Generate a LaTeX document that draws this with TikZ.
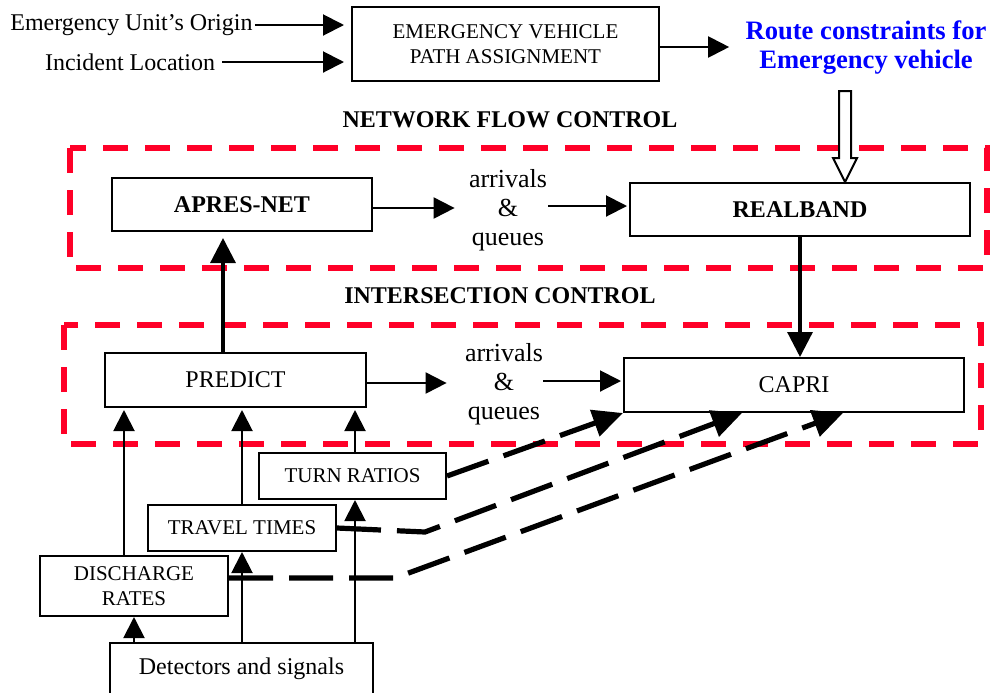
\documentclass[tikz,border=0pt]{standalone}
\usepackage{fontspec}
\setmainfont{Liberation Serif}
\usetikzlibrary{arrows.meta,calc}
\definecolor{groupred}{RGB}{255,0,40}
\begin{document}
\begin{tikzpicture}[x=0.5pt,y=-0.5pt,
  box/.style={draw,line width=1pt,inner sep=0pt,align=center},
  big/.style={font=\fontsize{12}{14}\selectfont},
  bigbold/.style={font=\fontsize{12}{14}\selectfont\bfseries},
  small/.style={font=\fontsize{10.5}{12.5}\selectfont},
  flow/.style={font=\fontsize{13}{14.5}\selectfont,align=center,inner sep=0pt},
  arr/.style={line width=1pt,-{Triangle[length=10.5pt,width=10.5pt]}},
  bigarr/.style={line width=1.6pt,-{Triangle[length=12.5pt,width=12.5pt]}},
  feed/.style={line width=2.6pt,dash pattern=on 22pt off 8pt,-{Triangle[length=15pt,width=13.5pt]}},
  group/.style={draw=groupred,line width=3pt,dash pattern=on 12.5pt off 8.5pt},
  header/.style={font=\fontsize{12}{14}\selectfont\bfseries,inner sep=0pt}
]
\useasboundingbox (0,0) rectangle (990,692);

% control groups
\draw[group] (70,148) rectangle (987,268);
\draw[group] (64,325) rectangle (981,444);

% path assignment
\node[box,small,minimum width=153.5pt,minimum height=37pt] (ev) at (505.5,44) {EMERGENCY VEHICLE\\PATH ASSIGNMENT};
\node[big,anchor=west,inner sep=0pt] (origin) at (10,25) {Emergency Unit’s Origin};
\node[big,inner sep=0pt] (incident) at (130,62) {Incident Location};
\node[font=\fontsize{13.3}{14.5}\selectfont\bfseries,text=blue,align=center,inner sep=0pt] (route) at (866,48) {Route constraints for\\Emergency vehicle};

\node[header] (netctl) at (510,120) {NETWORK FLOW CONTROL};
\node[header] (isctl) at (500,296) {INTERSECTION CONTROL};

% network level
\node[box,bigbold,minimum width=130pt,minimum height=26.5pt] (apres) at (242,204.5) {APRES-NET};
\node[box,bigbold,minimum width=170pt,minimum height=26.5pt] (realband) at (800,209.5) {REALBAND};
\node[flow] (arr1) at (508,210) {arrivals\\\&\\queues};

% intersection level
\node[box,big,minimum width=130.5pt,minimum height=27pt] (predict) at (235.5,380) {PREDICT};
\node[box,big,minimum width=170pt,minimum height=27pt] (capri) at (794,385) {CAPRI};
\node[flow] (arr2) at (504,384) {arrivals\\\&\\queues};

% measured inputs
\node[box,small,minimum width=93.5pt,minimum height=23pt] (turn) at (352.5,476) {TURN RATIOS};
\node[box,small,minimum width=94pt,minimum height=23pt] (travel) at (242,528) {TRAVEL TIMES};
\node[box,small,minimum width=94pt,minimum height=30pt] (discharge) at (134,586) {DISCHARGE\\RATES};
\node[box,big,minimum width=131.5pt,minimum height=25.5pt] (detect) at (241.5,668.5) {Detectors and signals};

% inputs to path assignment
\draw[arr] ([xshift=1pt]origin.east) -- ([xshift=-3.5pt]origin.east -| ev.west);
\draw[arr] ([xshift=3.5pt]incident.east) -- ([xshift=-3.5pt]incident.east -| ev.west);
\draw[arr] ([yshift=-1.5pt]ev.east) -- ([yshift=-1.5pt,xshift=-8pt]ev.east -| route.west);

% route constraints handed to REALBAND
\coordinate (htip) at ($(realband.north)+(45,0)$);
\draw[line width=1pt,fill=white] (htip) -- ++(-12,-24) -- ++(6,0) -- ++(0,-67)
  -- ++(12,0) -- ++(0,67) -- ++(6,0) -- cycle;

% network flow
\draw[arr,shorten >=7pt] ([yshift=-1.75pt]apres.east) -- ([yshift=-1.75pt]apres.east -| arr1.west);
\draw[arr,shorten >=1pt] ([xshift=0.5pt,yshift=1.75pt]arr1.east |- realband.west) -- ([yshift=1.75pt]realband.west);
\draw[bigarr] (realband.south) -- (realband.south |- capri.north);
\draw[bigarr,shorten >=3pt] ([xshift=-6.25pt]predict.north) -- ([xshift=-6.25pt]predict.north |- apres.south);

% intersection flow
\draw[arr,shorten >=9pt] ([yshift=-1.5pt]predict.east) -- ([yshift=-1.5pt]predict.east -| arr2.west);
\draw[arr,shorten >=1pt] ([yshift=2pt]arr2.east |- capri.west) -- ([yshift=2pt]capri.west);

% measurements into PREDICT
\draw[arr,shorten >=1pt] ([xshift=-5pt]discharge.north) -- ([xshift=-5pt]discharge.north |- predict.south);
\draw[arr,shorten >=1pt] (travel.north) -- (travel.north |- predict.south);
\draw[arr,shorten >=1pt] ([xshift=1.25pt]turn.north) -- ([xshift=1.25pt]turn.north |- predict.south);

% detectors feed the measurements
\draw[arr] (detect.north -| discharge.south) -- (discharge.south);
\draw[arr] (detect.north -| travel.south) -- (travel.south);
\draw[arr] ([xshift=1.25pt]detect.north -| turn.south) -- ([xshift=1.25pt]turn.south);

% measurements into CAPRI
\coordinate (bend2) at (425,532);
\coordinate (bend3) at (395,578);
\draw[feed] (turn.east) -- (capri.south west);
\draw[feed] (travel.east) -- (bend2) -- ([xshift=-26pt]capri.south);
\draw[feed] ([yshift=4pt]discharge.east) -- (bend3) -- ([xshift=24.5pt]capri.south);
\end{tikzpicture}
\end{document}
